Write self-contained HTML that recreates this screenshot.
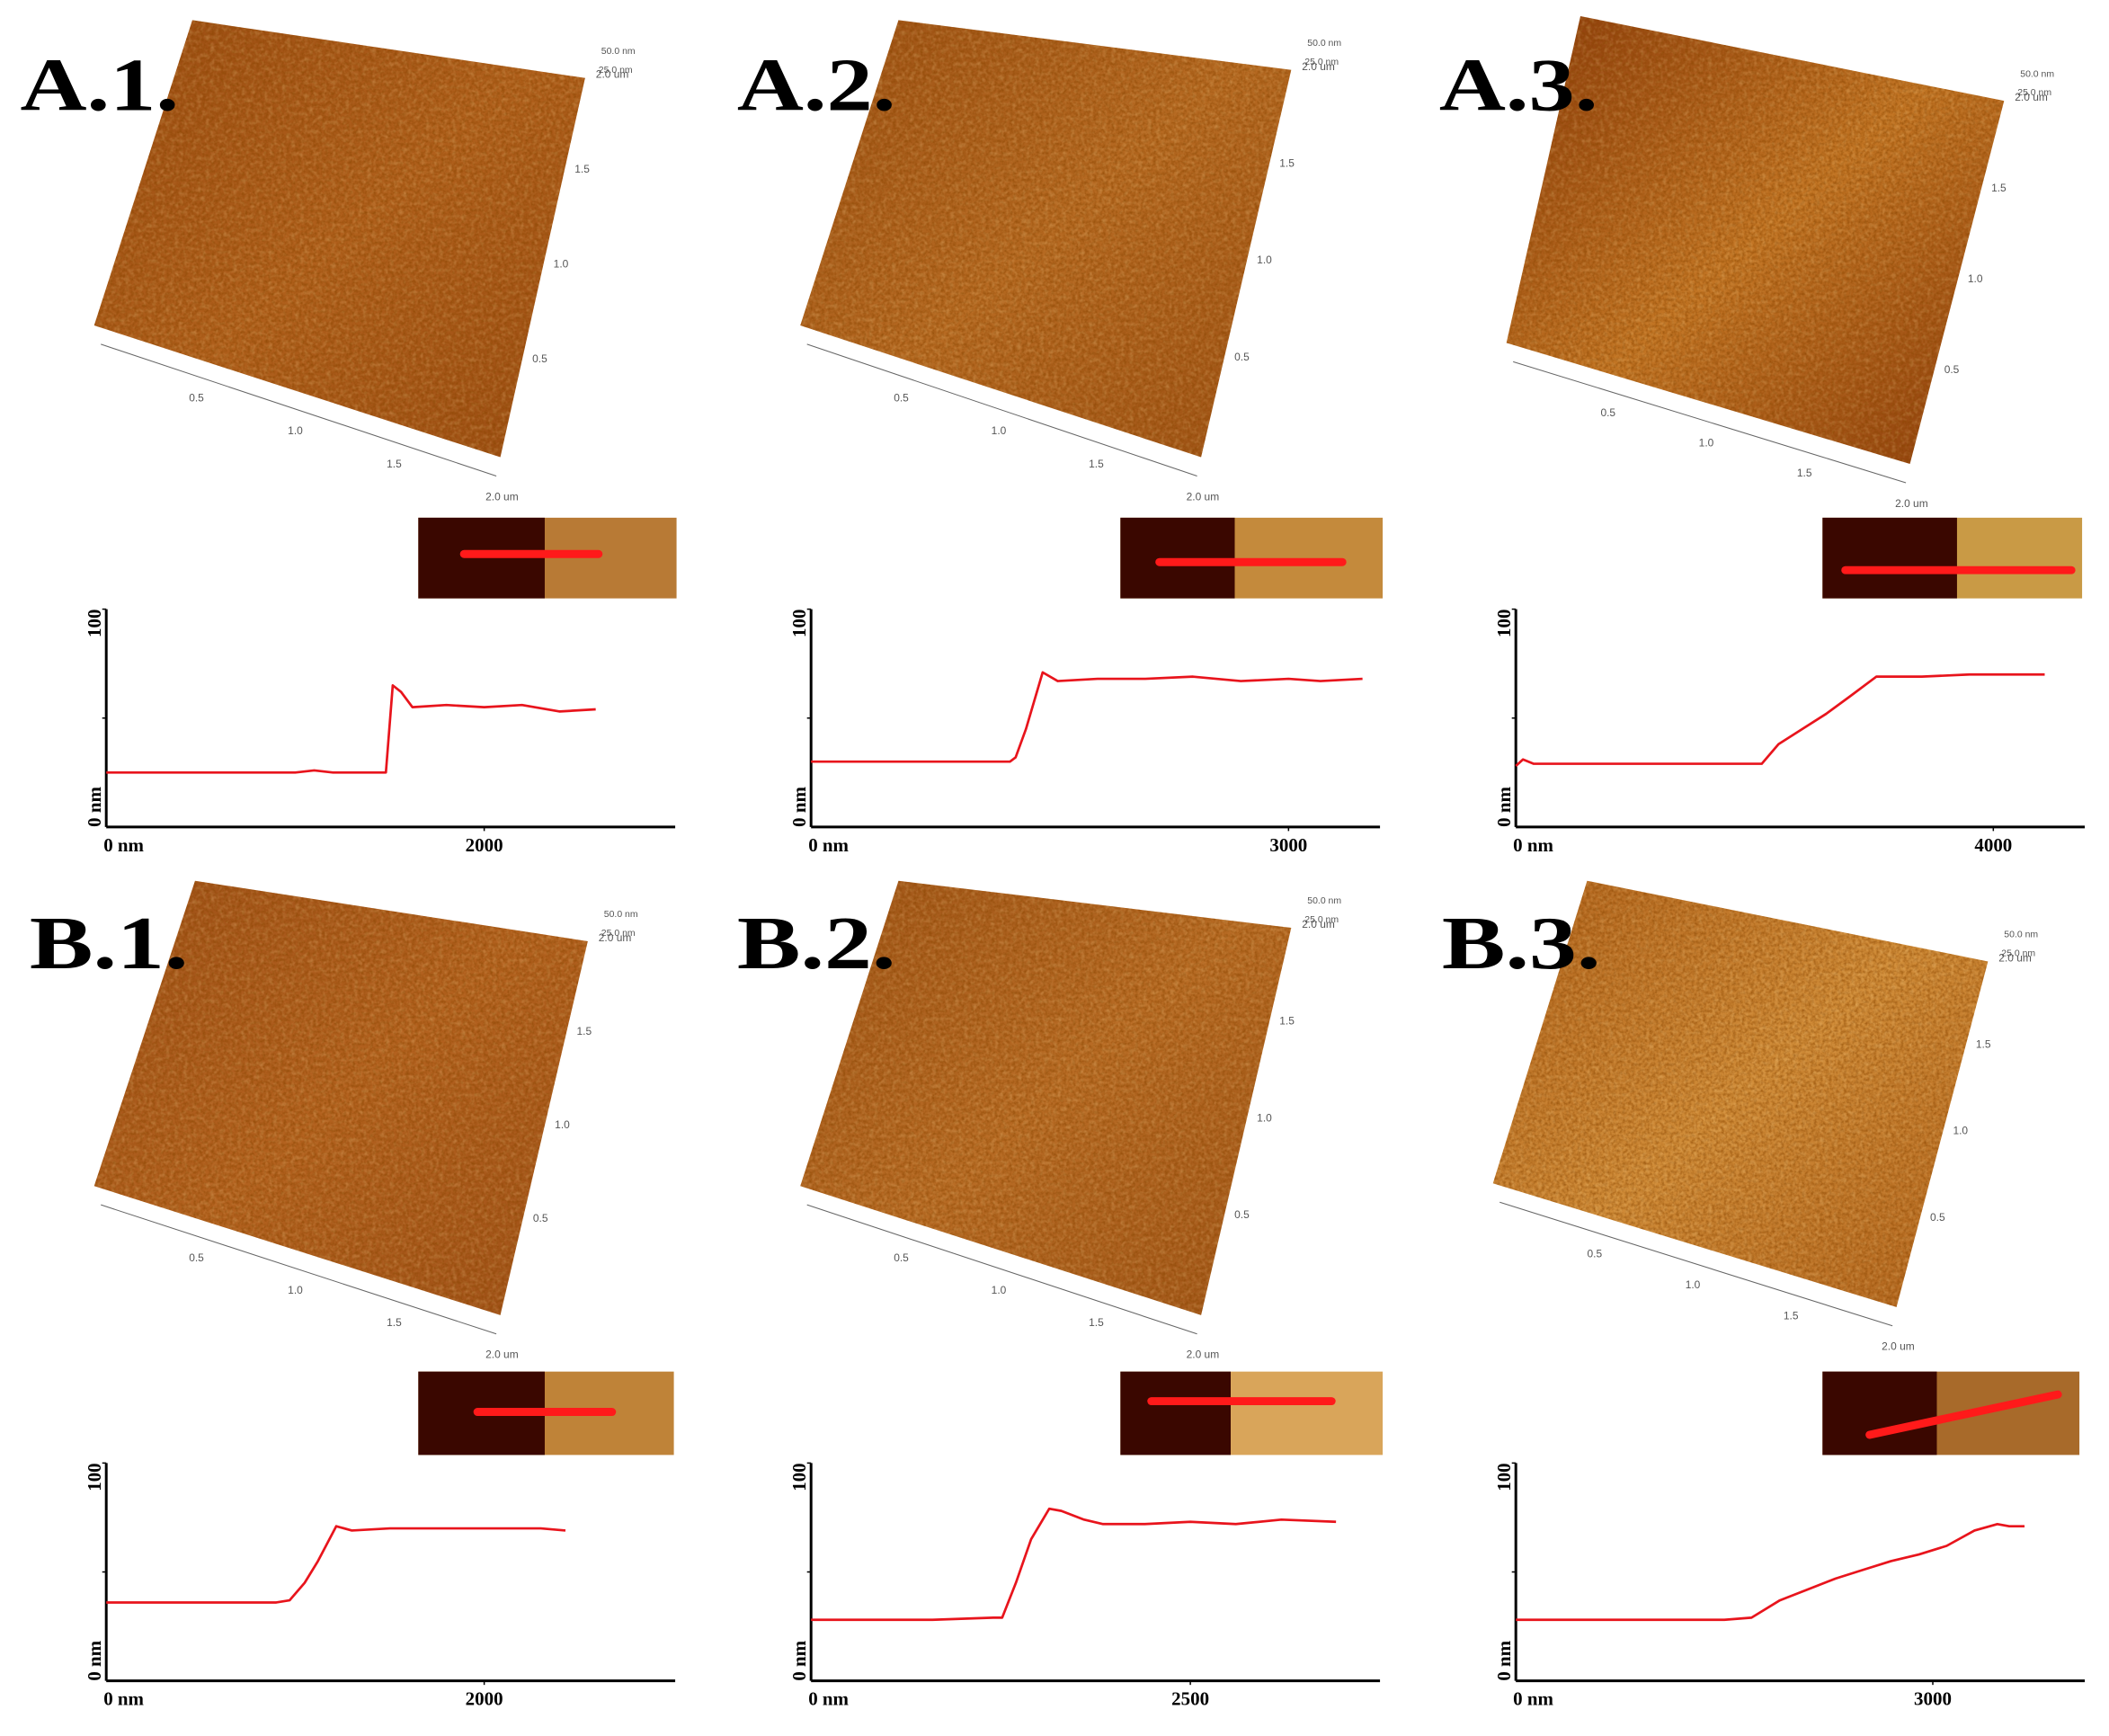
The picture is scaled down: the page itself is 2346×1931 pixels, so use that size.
<!DOCTYPE html>
<html><head><meta charset="utf-8"><style>
html,body{margin:0;padding:0;background:#fff}
svg{display:block}
</style></head><body>
<svg id="fig" xmlns="http://www.w3.org/2000/svg" width="2346" height="1931" viewBox="0 0 1568 1291" preserveAspectRatio="none" font-family="'Liberation Serif', serif">
<defs>
<filter id="grain"><feTurbulence type="fractalNoise" baseFrequency="0.45" numOctaves="3" seed="7"/><feColorMatrix type="matrix" values="0 0 0 0 0.25  0 0 0 0 0.06  0 0 0 0 0  0 0 0 1.6 -0.55"/><feComposite in2="SourceGraphic" operator="in"/></filter>
<filter id="grainL"><feTurbulence type="fractalNoise" baseFrequency="0.3" numOctaves="2" seed="11"/><feColorMatrix type="matrix" values="0 0 0 0 1  0 0 0 0 0.75  0 0 0 0 0.35  0 0 0 1.4 -0.6"/><feComposite in2="SourceGraphic" operator="in"/></filter>
</defs>
<g id="root"></g>
<g id="labels"></g>
</svg>
<script>
// ----- chart data (x in nm, height in nm) -----
const xA1=[0,500,1000,1100,1200,1450,1480,1516,1560,1620,1800,2000,2200,2400,2590];
const yA1=[25,25,25,26,25,25,25,65,62,55,56,55,56,53,54];
const xA2=[0,500,1000,1250,1285,1350,1455,1550,1800,2100,2400,2700,3000,3200,3465];
const yA2=[30,30,30,30,32,45,71,67,68,68,69,67,68,67,68];
const xA3=[0,60,150,400,800,1200,1600,2060,2200,2400,2600,2800,3020,3400,3800,4200,4430];
const yA3=[28,31,29,29,29,29,29,29,38,45,52,60,69,69,70,70,70];
const xB1=[0,300,600,900,970,1050,1120,1217,1300,1500,1800,2100,2300,2430];
const yB1=[36,36,36,36,37,45,55,71,69,70,70,70,70,69];
const xB2=[0,400,800,1200,1260,1350,1450,1570,1650,1800,1925,2200,2500,2800,3100,3460];
const yB2=[28,28,28,29,29,45,65,79,78,74,72,72,73,72,74,73];
const xB3=[0,500,1000,1500,1695,1900,2100,2300,2500,2700,2900,3100,3300,3465,3550,3660];
const yB3=[28,28,28,28,29,37,42,47,51,55,58,62,69,72,71,71];
const xTickA1=["0 nm","2000"],xTickA2=["0 nm","3000"],xTickA3=["0 nm","4000"];
const xTickB1=["0 nm","2000"],xTickB2=["0 nm","2500"],xTickB3=["0 nm","3000"];

const NS="http://www.w3.org/2000/svg";
const root=document.getElementById('root');
const labels=document.getElementById('labels');
function mk(tag,attrs,parent){const e=document.createElementNS(NS,tag);for(const k in attrs)e.setAttribute(k,attrs[k]);(parent||root).appendChild(e);return e;}

const panels=[
 {id:"a1",label:"A.1.",xs:xA1,ys:yA1,ticks:xTickA1,tickVal:2000,tickPx:360,
  surf:[[143,15],[435,58],[372,340],[70,242]],c1:"#b0601c",c2:"#9a4c12",
  inset:{x:311,y:385,w:192,h:60,split:405,dark:"#3a0700",light:"#b87a35",line:[345,412,445,412]}},
 {id:"a2",label:"A.2.",xs:xA2,ys:yA2,ticks:xTickA2,tickVal:3000,tickPx:958,
  surf:[[668,15],[960,52],[893,340],[595,242]],c1:"#b66a22",c2:"#9c5014",
  inset:{x:833,y:385,w:195,h:60,split:918,dark:"#3a0700",light:"#c48a3c",line:[862,418,998,418]}},
 {id:"a3",label:"A.3.",xs:xA3,ys:yA3,ticks:xTickA3,tickVal:4000,tickPx:1482,
  surf:[[1175,12],[1490,75],[1420,345],[1120,255]],c1:"#c27524",c2:"#8a3a0a",
  inset:{x:1355,y:385,w:193,h:60,split:1455,dark:"#3a0700",light:"#c99a45",line:[1372,424,1540,424]}},
 {id:"b1",label:"B.1.",xs:xB1,ys:yB1,ticks:xTickB1,tickVal:2000,tickPx:360,
  surf:[[145,655],[437,700],[372,978],[70,882]],c1:"#b3621f",c2:"#9e5018",
  inset:{x:311,y:1020,w:190,h:62,split:405,dark:"#3a0700",light:"#bf8338",line:[355,1050,455,1050]}},
 {id:"b2",label:"B.2.",xs:xB2,ys:yB2,ticks:xTickB2,tickVal:2500,tickPx:885,
  surf:[[668,655],[960,690],[893,978],[595,882]],c1:"#b86c25",c2:"#9f5418",
  inset:{x:833,y:1020,w:195,h:62,split:915,dark:"#3a0700",light:"#d9a55a",line:[856,1042,990,1042]}},
 {id:"b3",label:"B.3.",xs:xB3,ys:yB3,ticks:xTickB3,tickVal:3000,tickPx:1437,
  surf:[[1180,655],[1478,715],[1410,972],[1110,880]],c1:"#d08c38",c2:"#b0621c",
  inset:{x:1355,y:1020,w:191,h:62,split:1440,dark:"#3a0700",light:"#a86a2a",line:[1390,1067,1530,1037]}}
];
const labelPos={a1:[15,82],a2:[548,82],a3:[1070,82],b1:[22,720],b2:[548,720],b3:[1072,720]};
const axisX={a1:79,a2:603,a3:1127,b1:79,b2:603,b3:1127};
const axisY={a1:[453,615],a2:[453,615],a3:[453,615],b1:[1088,1250],b2:[1088,1250],b3:[1088,1250]};

panels.forEach(p=>{
  const g=mk('g',{});
  
  
  const lp=labelPos[p.id];
  const t=mk('text',{x:lp[0],y:lp[1],'font-size':56,'font-weight':'bold',fill:'#000',textLength:118,lengthAdjust:'spacingAndGlyphs'},labels);
  t.textContent=p.label;
  
  
  const s=p.surf;
  const gid='grad'+p.id;
  const lg=mk('linearGradient',{id:gid,x1:0,y1:0,x2:1,y2:1},g);
  mk('stop',{offset:'0','stop-color':p.c2},lg);
  mk('stop',{offset:'0.5','stop-color':p.c1},lg);
  mk('stop',{offset:'1','stop-color':p.c2},lg);
  const pts=s.map(q=>q.join(',')).join(' ');
  const poly=mk('polygon',{points:pts,fill:'url(#'+gid+')'},g);
  
  
  mk('polygon',{points:pts,fill:'#000',filter:'url(#grain)',opacity:0.7},g);
  mk('polygon',{points:pts,fill:'#000',filter:'url(#grainL)',opacity:0.35},g);
  const bl=s[3],br=s[2];
  const ax0=[bl[0]+5,bl[1]+14],ax1=[br[0]-3,br[1]+14];
  mk('line',{x1:ax0[0],y1:ax0[1],x2:ax1[0],y2:ax1[1],stroke:'#666','stroke-width':0.7},g);
  ['0.5','1.0','1.5','2.0 um'].forEach((lab,i)=>{
    const f=(i+1)/4;const x=ax0[0]+(ax1[0]-ax0[0])*f,y=ax0[1]+(ax1[1]-ax0[1])*f;
    const tt=mk('text',{x:x-8,y:y+18,'font-size':8,fill:'#555','font-family':"'Liberation Sans',sans-serif"},g);tt.textContent=lab;
  });
  ['0.5','1.0','1.5','2.0 um'].forEach((lab,i)=>{
    const f=(i+1)/4;const x=br[0]+(s[1][0]-br[0])*f+8,y=br[1]+(s[1][1]-br[1])*f;
    const tt=mk('text',{x:x,y:y,'font-size':8,fill:'#555','font-family':"'Liberation Sans',sans-serif"},g);tt.textContent=lab;
  });
  const z1=mk('text',{x:s[1][0]+12,y:s[1][1]-18,'font-size':7,fill:'#555','font-family':"'Liberation Sans',sans-serif"},g);z1.textContent='50.0 nm';
  const z2=mk('text',{x:s[1][0]+10,y:s[1][1]-4,'font-size':7,fill:'#555','font-family':"'Liberation Sans',sans-serif"},g);z2.textContent='25.0 nm';
  const I=p.inset;
  const ins=mk('g',{},g);
  
  
  mk('rect',{x:I.x,y:I.y,width:I.w,height:I.h,fill:I.light},ins);
  mk('rect',{x:I.x,y:I.y,width:I.split-I.x,height:I.h,fill:I.dark},ins);
  mk('line',{x1:I.line[0],y1:I.line[1],x2:I.line[2],y2:I.line[3],stroke:'#ff1a1a','stroke-width':6,'stroke-linecap':'round'},ins);
  const X0=axisX[p.id],[YT,YB]=axisY[p.id];
  const XE=X0+423;
  const sx=v=>X0+(p.tickPx-X0)*v/p.tickVal;
  const sy=v=>YB-(YB-YT)*v/100;
  const ch=mk('g',{},g);
  
  
  const ya=mk('line',{x1:X0,y1:YT,x2:X0,y2:YB,stroke:'#000','stroke-width':2},ch);
  
  
  const xa=mk('line',{x1:X0,y1:YB,x2:XE,y2:YB,stroke:'#000','stroke-width':2},ch);
  
  
  mk('line',{x1:X0-3,y1:sy(50),x2:X0,y2:sy(50),stroke:'#000','stroke-width':1},ch);
  mk('line',{x1:X0-3,y1:YT,x2:X0,y2:YT,stroke:'#000','stroke-width':1},ch);
  mk('line',{x1:sx(p.tickVal),y1:YB,x2:sx(p.tickVal),y2:YB+3,stroke:'#000','stroke-width':1},ch);
  const y100=mk('text',{transform:`translate(${X0-4},${YT}) rotate(-90)`,'text-anchor':'end','font-size':14,'font-weight':'bold'},ch);y100.textContent='100';
  
  
  const y0=mk('text',{transform:`translate(${X0-4},${YB}) rotate(-90)`,'text-anchor':'start','font-size':14,'font-weight':'bold'},ch);y0.textContent='0 nm';
  
  
  const x0t=mk('text',{x:X0-2,y:YB+18,'font-size':14,'font-weight':'bold'},ch);x0t.textContent=p.ticks[0];
  
  
  const x1t=mk('text',{x:sx(p.tickVal),y:YB+18,'text-anchor':'middle','font-size':14,'font-weight':'bold'},ch);x1t.textContent=p.ticks[1];
  
  
  const d=p.xs.map((v,i)=>(i?'L':'M')+sx(v).toFixed(1)+','+sy(p.ys[i]).toFixed(1)).join(' ');
  const ln=mk('path',{d:d,fill:'none',stroke:'#e8141c','stroke-width':1.8,'stroke-linejoin':'round'},ch);
  
  
});
</script>
</body></html>
